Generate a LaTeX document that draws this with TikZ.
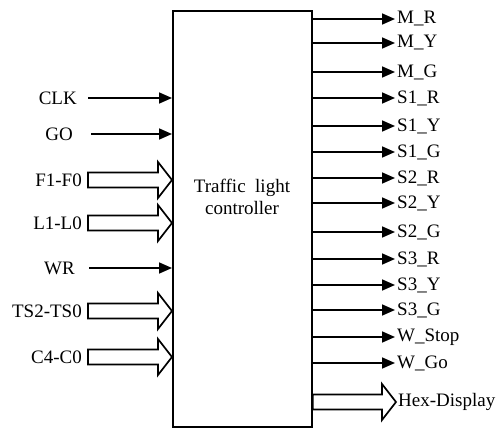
\documentclass[tikz,border=0pt]{standalone}
\usepackage{fontspec}
\setmainfont{Liberation Serif}
\usetikzlibrary{arrows.meta,calc}

% wide bus arrow from #1 (tail) to #2 (tip)
\newcommand{\busarrow}[2]{%
  \draw[bus] ($(#1)+(0,-7.5)$) -- ($(#2)+(-14,-7.5)$) -- ($(#2)+(-14,-18)$)
    -- (#2) -- ($(#2)+(-14,18)$) -- ($(#2)+(-14,7.5)$) -- ($(#1)+(0,7.5)$) -- cycle;}

\begin{document}
\begin{tikzpicture}[
    x=1pt, y=-1pt,
    every node/.style={font=\fontsize{19}{22}\selectfont},
    % block
    block/.style={rectangle, draw, line width=1.8pt, minimum width=139pt, minimum height=416pt,
                  anchor=north west, inner sep=0pt},
    % signal labels
    lbl/.style={inner sep=2pt},
    sig/.style={-{Triangle[length=13pt,width=11pt]}, line width=1.7pt},
    bus/.style={line width=1.7pt, fill=white, line join=miter}
]
\useasboundingbox (0,0) rectangle (496,428);

% --- Controller ---
\node[block] (box) at (172,10) {};
\node[align=center] (title) at (242,197) {Traffic \ light\\controller};

% --- Inputs ---
\node[lbl, anchor=east] (clk) at (79,98) {CLK};
\node[lbl, anchor=east] (go) at (75,134) {GO};
\node[lbl, anchor=east] (fin) at (84,180) {F1-F0};
\node[lbl, anchor=east] (lin) at (84,223) {L1-L0};
\node[lbl, anchor=east] (wr) at (77,268) {WR};
\node[lbl, anchor=east] (tsin) at (84,311) {TS2-TS0};
\node[lbl, anchor=east] (cin) at (84,357) {C4-C0};

\draw[sig] ([xshift=9pt]clk.east) -- (clk.east -| box.west);
\draw[sig] ([xshift=16pt]go.east) -- (go.east -| box.west);
\busarrow{[xshift=4pt]fin.east}{fin.east -| box.west}
\busarrow{[xshift=4pt]lin.east}{lin.east -| box.west}
\draw[sig] ([xshift=12pt]wr.east) -- (wr.east -| box.west);
\busarrow{[xshift=4pt]tsin.east}{tsin.east -| box.west}
\busarrow{[xshift=4pt]cin.east}{cin.east -| box.west}

% --- Outputs ---
\node[lbl, anchor=west] (mr) at (395,19) {M\_R};
\node[lbl, anchor=west] (my) at (395,43) {M\_Y};
\node[lbl, anchor=west] (mg) at (395,72) {M\_G};
\node[lbl, anchor=west] (sar) at (395,98) {S1\_R};
\node[lbl, anchor=west] (say) at (395,126) {S1\_Y};
\node[lbl, anchor=west] (sag) at (395,152) {S1\_G};
\node[lbl, anchor=west] (sbr) at (395,178) {S2\_R};
\node[lbl, anchor=west] (sby) at (395,203) {S2\_Y};
\node[lbl, anchor=west] (sbg) at (395,232) {S2\_G};
\node[lbl, anchor=west] (scr) at (395,259) {S3\_R};
\node[lbl, anchor=west] (scy) at (395,285) {S3\_Y};
\node[lbl, anchor=west] (scg) at (395,310) {S3\_G};
\node[lbl, anchor=west] (wstop) at (395,337) {W\_Stop};
\node[lbl, anchor=west] (wgo) at (395,363) {W\_Go};
\node[lbl, anchor=west] (hex) at (396,402) {Hex-Display};

\draw[sig] (mr.west -| box.east) -- (mr.west);
\draw[sig] (my.west -| box.east) -- (my.west);
\draw[sig] (mg.west -| box.east) -- (mg.west);
\draw[sig] (sar.west -| box.east) -- (sar.west);
\draw[sig] (say.west -| box.east) -- (say.west);
\draw[sig] (sag.west -| box.east) -- (sag.west);
\draw[sig] (sbr.west -| box.east) -- (sbr.west);
\draw[sig] (sby.west -| box.east) -- (sby.west);
\draw[sig] (sbg.west -| box.east) -- (sbg.west);
\draw[sig] (scr.west -| box.east) -- (scr.west);
\draw[sig] (scy.west -| box.east) -- (scy.west);
\draw[sig] (scg.west -| box.east) -- (scg.west);
\draw[sig] (wstop.west -| box.east) -- (wstop.west);
\draw[sig] (wgo.west -| box.east) -- (wgo.west);
\busarrow{hex.west -| box.east}{hex.west}

\end{tikzpicture}
\end{document}
